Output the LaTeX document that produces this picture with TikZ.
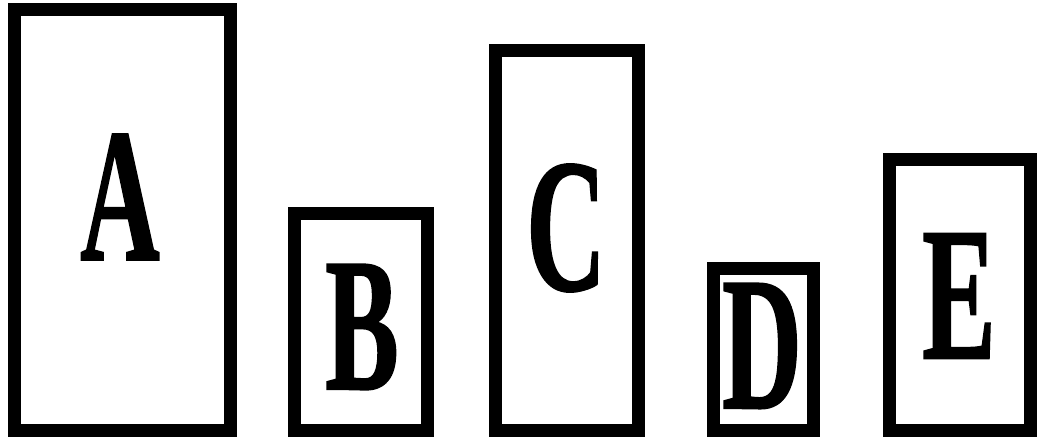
\documentclass[tikz,border=0pt]{standalone}
\usepackage{fontspec}
\setmainfont{Liberation Serif}[BoldFeatures={FakeBold=1.2}]
\usepackage{graphicx}
\usetikzlibrary{positioning}
\newcommand{\condense}[1]{\scalebox{0.58}[1]{#1}}
\tikzset{
    frame/.style = {rectangle, draw=black, line width=13pt, inner sep=0pt},
    letter/.style = {inner sep=0pt, font=\fontsize{190}{190}\selectfont\bfseries}
}
\begin{document}
\begin{tikzpicture}[x=1pt, y=-1pt]
\useasboundingbox (0,0) rectangle (1048,443);

\node[frame, minimum width=216pt, minimum height=421pt] (boxA) at (122.5,220) {};
\node[frame, minimum width=133pt, minimum height=217pt] (boxB) at (361,322) {};
\node[frame, minimum width=143pt, minimum height=380pt] (boxC) at (567,240.5) {};
\node[frame, minimum width=100pt, minimum height=162pt] (boxD) at (763.5,349.5) {};
\node[frame, minimum width=141pt, minimum height=271pt] (boxE) at (960,295) {};

\node[letter] (labA) at (120,197) {\condense{A}};
\node[letter] (labB) at (362,327) {\condense{B}};
\node[letter] (labC) at (566,228) {\condense{C}};
\node[letter] (labD) at (762,346) {\condense{D}};
\node[letter] (labE) at (959,296) {\condense{E}};

\end{tikzpicture}
\end{document}
